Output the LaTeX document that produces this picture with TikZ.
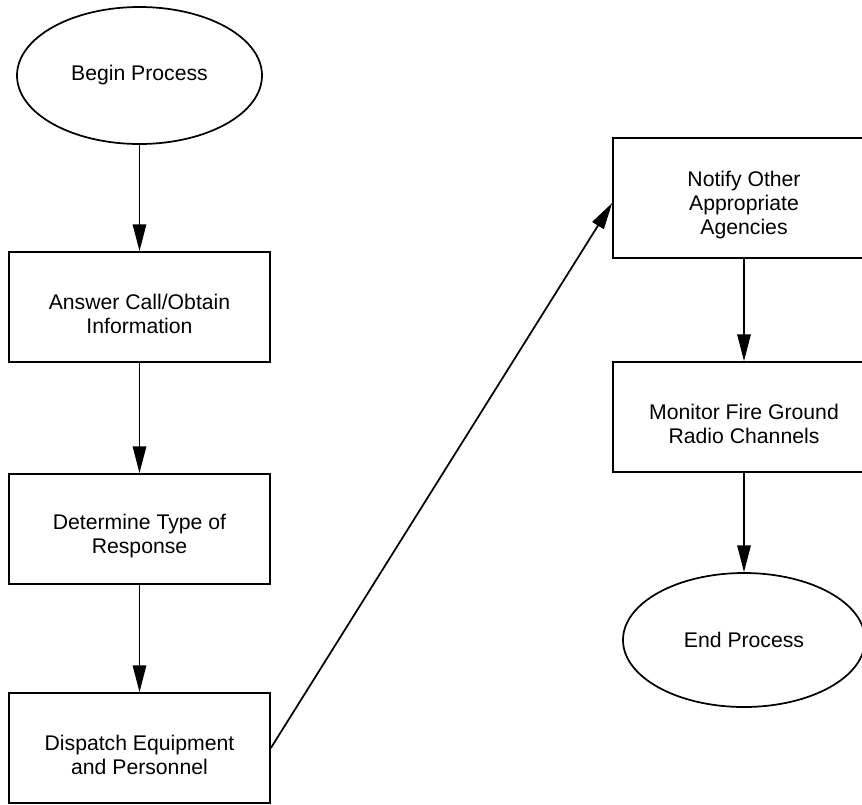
\documentclass[tikz,border=0pt]{standalone}
\usepackage{fontspec}
\setmainfont{Liberation Sans}
\usetikzlibrary{arrows.meta,shapes.geometric}

\begin{document}
\begin{tikzpicture}[x=0.75pt,y=-0.75pt,
	box/.style={draw,line width=1.3pt,inner sep=0pt,minimum width=195.75pt,minimum height=82.5pt},
	boxtext/.style={yshift=-5.25pt,align=center},
	oval/.style={draw,ellipse,line width=1.3pt,inner sep=0pt,align=center},
	flow/.style={line width=1.3pt,-{Triangle[length=20pt,width=10pt]}},
	font=\fontsize{15.9}{17.9}\selectfont]
	\useasboundingbox (0,0) rectangle (862,804);
	% left column
	\node[oval,minimum width=183.75pt,minimum height=102.75pt] (begin) at (139.5,75.5) {Begin Process};
	\node[box,label={[boxtext]center:{Answer Call/Obtain\\Information}}] (answer) at (139.5,307) {};
	\node[box,label={[boxtext]center:{Determine Type of\\Response}}] (determine) at (139.5,529) {};
	\node[box,label={[boxtext]center:{Dispatch Equipment\\and Personnel}}] (dispatch) at (139.5,748) {};
	% right column
	\node[box,minimum width=196.5pt,minimum height=90pt,label={[boxtext]center:{Notify Other\\Appropriate\\Agencies}}] (notify) at (744,198) {};
	\node[box,minimum width=196.5pt,label={[boxtext]center:{Monitor Fire Ground\\Radio Channels}}] (monitor) at (744,417) {};
	\node[oval,minimum width=181.5pt,minimum height=100.5pt] (end) at (744,640) {End Process};
	% connectors
	\draw[flow] (begin) -- (answer);
	\draw[flow] (answer) -- (determine);
	\draw[flow] (determine) -- (dispatch);
	\draw[flow] (dispatch.east) -- ([yshift=-3.75pt]notify.west);
	\draw[flow] (notify) -- (monitor);
	\draw[flow] (monitor) -- (end);
\end{tikzpicture}
\end{document}
